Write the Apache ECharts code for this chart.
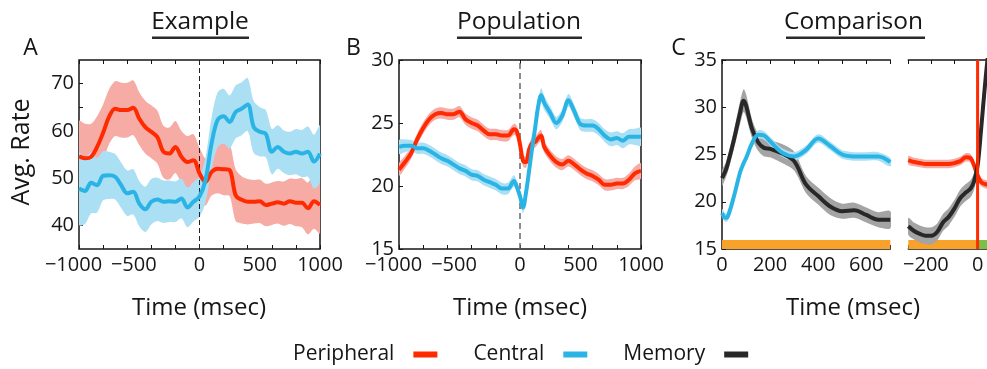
<!DOCTYPE html>
<html><head><meta charset="utf-8">
<script src="https://cdn.jsdelivr.net/npm/echarts@6/dist/echarts.min.js"></script>
<style>html,body{margin:0;padding:0;background:#fff}#c{width:987px;height:369px}</style>
</head><body><div id="c"></div>
<script>
// ---------- Panel A : Example ----------
const timeA = [-1000,-950,-900,-850,-800,-750,-700,-650,-600,-550,-500,-450,-400,-350,-300,-250,-200,-150,-100,-50,0,50,100,150,200,250,300,350,400,450,500,550,600,650,700,750,800,850,900,950,1000];
const periphA = [54.6,54.2,54.5,56.6,59.6,63.0,64.7,64.4,64.4,64.9,62.6,60.8,59.8,58.7,55.6,55.2,56.6,54.5,53.4,53.8,51.0,49.2,51.3,52.0,51.9,51.7,46.4,45.4,45.0,45.0,45.1,44.3,44.6,44.9,44.6,45.1,44.8,44.8,43.6,45.1,44.3];
const periphAErr = [7.5,7.3,7.0,6.5,6.0,5.8,5.8,5.8,5.8,5.8,5.6,5.6,5.6,5.6,5.5,5.5,5.5,5.5,5.5,5.5,5.5,5.0,5.0,5.2,5.5,5.5,5.5,5.0,4.8,4.6,4.6,4.5,4.5,4.5,4.7,4.8,5.0,5.2,5.5,5.8,6.0];
const centralA = [47.8,47.3,49.0,48.5,50.5,50.6,50.3,48.5,46.8,47.1,44.6,43.4,45.0,45.5,45.0,45.1,45.0,45.7,43.8,45.0,46.1,49.6,57.3,62.3,63.1,61.9,64.0,64.7,65.6,60.8,59.8,59.4,55.6,56.6,55.6,55.2,55.6,55.2,55.6,53.5,55.2];
const centralAErr = [7.7,7.0,6.5,5.8,5.2,5.0,4.8,4.8,4.8,4.8,4.8,4.8,4.8,4.6,4.5,4.4,4.3,4.2,4.2,4.2,4.3,4.8,5.5,5.8,5.8,5.6,5.6,5.6,5.6,5.5,5.2,5.0,4.8,4.6,4.5,4.6,4.8,5.0,5.3,5.7,6.0];

// ---------- Panel B : Population ----------
const timeB = [-1000,-950,-900,-850,-800,-750,-700,-650,-600,-550,-500,-450,-400,-350,-300,-250,-200,-150,-100,-50,-25,0,25,50,75,100,125,150,175,200,250,300,350,400,450,500,550,600,650,700,750,800,850,900,950,1000];
const periphB = [21.3,21.9,22.6,23.7,24.6,25.3,25.7,25.8,25.7,25.7,25.9,25.3,25.0,24.8,24.4,24.1,24.1,24.0,24.0,24.5,24.3,23.3,22.0,21.9,22.9,23.4,23.5,23.8,24.0,23.1,22.4,21.9,21.7,22.0,21.7,21.3,21.0,20.8,20.5,20.1,20.1,20.2,20.2,20.5,21.0,21.2];
const periphBErr = [0.5,0.5,0.45,0.45,0.45,0.45,0.45,0.45,0.45,0.45,0.45,0.45,0.45,0.45,0.45,0.45,0.45,0.45,0.45,0.45,0.45,0.45,0.45,0.45,0.45,0.45,0.45,0.45,0.45,0.45,0.45,0.45,0.45,0.45,0.45,0.45,0.45,0.45,0.45,0.45,0.45,0.45,0.45,0.5,0.55,0.6];
const centralB = [23.1,23.2,23.2,23.0,23.0,22.8,22.5,22.2,22.0,21.7,21.4,21.2,20.9,20.8,20.5,20.3,20.1,19.8,19.8,20.4,19.9,19.2,18.3,19.5,21.2,23.0,24.6,26.3,27.2,26.6,25.8,25.0,25.6,26.8,25.9,24.9,24.8,24.8,24.5,24.0,23.7,23.8,23.6,23.9,23.9,23.9];
const centralBErr = [0.55,0.5,0.45,0.45,0.45,0.45,0.45,0.45,0.45,0.45,0.45,0.45,0.45,0.45,0.45,0.45,0.45,0.45,0.45,0.45,0.45,0.45,0.45,0.45,0.45,0.45,0.5,0.5,0.55,0.55,0.5,0.5,0.5,0.5,0.5,0.5,0.5,0.5,0.5,0.5,0.55,0.55,0.6,0.6,0.65,0.7];

// ---------- Panel C : Comparison ----------
const timeC1 = [0,15,25,50,75,90,100,125,150,175,200,250,300,350,400,450,500,550,600,650,700];
const memoryC1 = [22.5,23.3,24.1,26.6,29.4,30.7,30.2,27.7,26.3,25.7,25.6,25.1,24.3,21.8,20.6,19.5,19.0,19.1,18.6,18.1,18.1];
const memoryC1Err = [0.8,0.8,0.9,1.0,1.2,1.2,1.2,1.0,0.9,0.9,0.9,1.0,1.0,0.9,0.9,0.9,0.8,0.8,0.8,0.8,0.9];
const centralC1 = [18.8,18.3,18.5,20.6,23.1,24.1,24.6,26.2,27.1,27.0,26.4,25.2,24.8,25.5,26.7,25.9,25.0,24.8,24.8,24.8,24.2];
const centralC1Err = [0.45,0.45,0.45,0.45,0.45,0.45,0.45,0.45,0.45,0.45,0.45,0.45,0.45,0.45,0.45,0.45,0.45,0.45,0.45,0.45,0.45];
const timeC2 = [-300,-275,-250,-225,-200,-175,-150,-125,-100,-75,-50,-30,-15,0,15,30,45,60];
const memoryC2 = [17.4,16.9,16.6,16.4,16.4,16.8,17.8,18.4,19.3,20.4,21.0,21.4,22.2,23.8,27.6,31.8,35.5,38.0];
const memoryC2Err = [0.9,0.9,0.9,0.9,0.9,0.9,0.9,0.9,0.9,0.9,0.9,0.9,0.9,0.9,0.9,0.9,0.9,0.9];
const periphC2 = [24.4,24.2,24.1,24.0,24.0,24.0,24.0,24.0,24.1,24.3,24.7,24.6,23.8,22.8,22.1,21.9,21.8,21.7];
const periphC2Err = [0.45,0.45,0.45,0.45,0.45,0.45,0.45,0.45,0.45,0.45,0.45,0.45,0.45,0.45,0.45,0.45,0.45,0.45];
// task epochs (fixation bar, then go) drawn at the bottom of panel C
const epochStartC1 = [0], epochEndC1 = [700], epochKindC1 = [0];
const epochStartC2 = [-300, 0], epochEndC2 = [0, 100], epochKindC2 = [0, 1];
const epochTop = 15.95, epochBottom = 15;
const goTime = 0;

// ---------- ticks ----------
const ticksABx = [-1000,-800,-600,-400,-200,0,200,400,600,800,1000];
const labelsABx = [-1000,-500,0,500,1000];
const ticksAy = [40,45,50,55,60,65,70];
const labelsAy = [40,50,60,70];
const labelsBy = [15,20,25,30];
const ticksC1x = [0,100,200,300,400,500,600,700];
const labelsC1x = [0,200,400,600];
const ticksC2x = [-300,-200,-100,0];
const labelsC2x = [-200,0];
const labelsCy = [15,20,25,30,35];

// ---------- styling ----------
const FONT = "'Open Sans', sans-serif";
const INK = '#161616';
const RED = '#ff2a00', BLUE = '#2ab4e6', BLACK = '#282828';
const RED_BAND = '#f6aba5', BLUE_BAND = '#abdff4', GRAY_BAND = '#a4a4a4';
const EPOCH_COLORS = ['#f8a22b', '#78c145'];

const chart = echarts.init(document.getElementById('c'));

function pairs(t, v) { return t.map((x, i) => [x, v[i]]); }
function lineS(name, xi, yi, t, v, color, z) {
  return { type: 'line', name, xAxisIndex: xi, yAxisIndex: yi, data: pairs(t, v),
    symbol: 'none', showSymbol: false, smooth: 0.35, clip: true, z,
    color, itemStyle: { color }, lineStyle: { color, width: 4 }, silent: true, animation: false };
}
function bandS(xi, yi, t, v, e, color) {
  const data = t.map((x, i) => [x, v[i] - e[i], v[i] + e[i]]);
  return { type: 'custom', xAxisIndex: xi, yAxisIndex: yi, data, clip: true, z: 2, silent: true,
    encode: { x: 0, y: [1, 2] },
    renderItem(params, api) {
      if (params.dataIndex !== 0) return null;
      const up = [], lo = [];
      for (const d of data) { up.push(api.coord([d[0], d[2]])); lo.push(api.coord([d[0], d[1]])); }
      return { type: 'polygon', shape: { points: up.concat(lo.reverse()), smooth: 0.3 },
        style: { fill: color, blend: 'multiply' } };
    } };
}
function epochS(xi, yi, starts, ends, kinds) {
  const data = starts.map((s, i) => [s, ends[i], kinds[i]]);
  return { type: 'custom', xAxisIndex: xi, yAxisIndex: yi, data, clip: true, z: 1, silent: true,
    encode: { x: [0, 1] },
    renderItem(params, api) {
      const a = api.coord([api.value(0), epochTop]);
      const b = api.coord([api.value(1), epochBottom]);
      return { type: 'rect', shape: { x: a[0], y: a[1], width: b[0] - a[0], height: b[1] - a[1] },
        style: { fill: EPOCH_COLORS[api.value(2)] } };
    } };
}
function vline(xi, yi, x, y0, y1, color, width, type, z) {
  return { type: 'line', xAxisIndex: xi, yAxisIndex: yi, data: [[x, y0], [x, y1]], symbol: 'none',
    lineStyle: { color, width, type }, z, silent: true, animation: false };
}

const labelStyle = { fontFamily: FONT, fontSize: 20, color: INK };
function fmt(v) { return v < 0 ? '{n|\u2212' + Math.abs(v) + '}' : '{p|' + v + '}'; }
function xAx(grid, pos, min, max, ticks, labels, showLine) {
  return { type: 'value', gridIndex: grid, position: pos, min, max,
    splitLine: { show: false },
    axisLine: { show: showLine, onZero: false, lineStyle: { color: INK, width: 1.5 } },
    axisTick: { show: true, inside: true, length: 4, customValues: ticks, lineStyle: { color: INK, width: 1 } },
    axisLabel: labels ? { show: true, customValues: labels, margin: 6, formatter: fmt,
      showMinLabel: true, showMaxLabel: true, hideOverlap: false,
      rich: { n: Object.assign({ padding: [0, 11, 0, 0] }, labelStyle), p: Object.assign({}, labelStyle) } }
      : { show: false } };
}
function yAx(grid, min, max, ticks, labels, showLine, show) {
  return { type: 'value', gridIndex: grid, min, max, show: show !== false,
    splitLine: { show: false },
    axisLine: { show: showLine, onZero: false, lineStyle: { color: INK, width: 1.5 } },
    axisTick: { show: true, inside: true, length: 4, customValues: ticks, lineStyle: { color: INK, width: 1 } },
    axisLabel: { show: true, customValues: labels, margin: 5, fontFamily: FONT, fontSize: 20, color: INK,
      showMinLabel: true, showMaxLabel: true, hideOverlap: false } };
}

const gridBox = { show: true, borderColor: INK, borderWidth: 1.5, backgroundColor: 'transparent' };

function txt(x, y, s, size, extra) {
  return Object.assign({ type: 'text', x, y, silent: true,
    style: { text: s, fontFamily: FONT, fontSize: size, fill: INK, textAlign: 'center', textVerticalAlign: 'middle' } }, extra || {});
}

chart.setOption({
  animation: false,
  grid: [
    Object.assign({ left: 79, top: 60, width: 241, height: 189 }, gridBox),
    Object.assign({ left: 399, top: 60, width: 242, height: 189 }, gridBox),
    { left: 722, top: 60, width: 168.3, height: 189 },
    { left: 908.3, top: 60, right: 0, height: 189 }
  ],
  xAxis: [
    xAx(0, 'bottom', -1000, 1000, ticksABx, labelsABx, false),
    xAx(0, 'top', -1000, 1000, ticksABx, null, false),
    xAx(1, 'bottom', -1000, 1000, ticksABx, labelsABx, false),
    xAx(1, 'top', -1000, 1000, ticksABx, null, false),
    xAx(2, 'bottom', 0, 700, ticksC1x, labelsC1x, true),
    xAx(2, 'top', 0, 700, ticksC1x, null, true),
    xAx(3, 'bottom', -300, 40.7, ticksC2x, labelsC2x, true),
    xAx(3, 'top', -300, 40.7, ticksC2x, null, true)
  ],
  yAxis: [
    yAx(0, 35, 75, ticksAy, labelsAy, false),
    yAx(1, 15, 30, labelsBy, labelsBy, false),
    yAx(2, 15, 35, labelsCy, labelsCy, true),
    yAx(3, 15, 35, labelsCy, labelsCy, false, false)
  ],
  legend: {
    data: ['Peripheral', 'Central', 'Memory'], left: 288, top: 339, align: 'right', icon: 'rect',
    itemWidth: 24, itemHeight: 6, itemGap: 36, selectedMode: false,
    textStyle: { fontFamily: FONT, fontSize: 21, color: INK, padding: [0, 14, 0, 0] }
  },
  series: [
    // A
    bandS(0, 0, timeA, periphA, periphAErr, RED_BAND),
    bandS(0, 0, timeA, centralA, centralAErr, BLUE_BAND),
    vline(0, 0, 0, 35, 75, '#222', 1, [5, 3], 3),
    lineS('Peripheral', 0, 0, timeA, periphA, RED, 4),
    lineS('Central', 0, 0, timeA, centralA, BLUE, 5),
    // B
    bandS(2, 1, timeB, periphB, periphBErr, RED_BAND),
    bandS(2, 1, timeB, centralB, centralBErr, BLUE_BAND),
    vline(2, 1, 0, 15, 30, '#666', 1.5, [6, 4], 3),
    lineS('Peripheral', 2, 1, timeB, periphB, RED, 4),
    lineS('Central', 2, 1, timeB, centralB, BLUE, 5),
    // C left
    epochS(4, 2, epochStartC1, epochEndC1, epochKindC1),
    bandS(4, 2, timeC1, memoryC1, memoryC1Err, GRAY_BAND),
    bandS(4, 2, timeC1, centralC1, centralC1Err, BLUE_BAND),
    lineS('Memory', 4, 2, timeC1, memoryC1, BLACK, 4),
    lineS('Central', 4, 2, timeC1, centralC1, BLUE, 5),
    // C right
    epochS(6, 3, epochStartC2, epochEndC2, epochKindC2),
    bandS(6, 3, timeC2, memoryC2, memoryC2Err, GRAY_BAND),
    bandS(6, 3, timeC2, periphC2, periphC2Err, RED_BAND),
    lineS('Peripheral', 6, 3, timeC2, periphC2, RED, 4),
    lineS('Memory', 6, 3, timeC2, memoryC2, BLACK, 5),
    vline(6, 3, goTime, 15, 35, RED, 3, 'solid', 6)
  ],
  graphic: [
    txt(200, 22, 'Example', 24.5),
    { type: 'rect', shape: { x: 152, y: 36.5, width: 97, height: 2.6 }, style: { fill: '#2a2a2a' }, silent: true },
    txt(519, 22, 'Population', 24.5),
    { type: 'rect', shape: { x: 457, y: 36.5, width: 125, height: 2.6 }, style: { fill: '#2a2a2a' }, silent: true },
    txt(853.5, 22, 'Comparison', 24.5),
    { type: 'rect', shape: { x: 786, y: 36.5, width: 139, height: 2.6 }, style: { fill: '#2a2a2a' }, silent: true },
    txt(30.5, 48, 'A', 23),
    txt(353.5, 48, 'B', 23),
    txt(678.5, 48, 'C', 23),
    txt(22, 152, 'Avg. Rate', 25, { rotation: Math.PI / 2 }),
    txt(199, 308, 'Time (msec)', 24),
    txt(520, 308, 'Time (msec)', 24),
    txt(853, 308, 'Time (msec)', 24)
  ]
});
</script></body></html>
